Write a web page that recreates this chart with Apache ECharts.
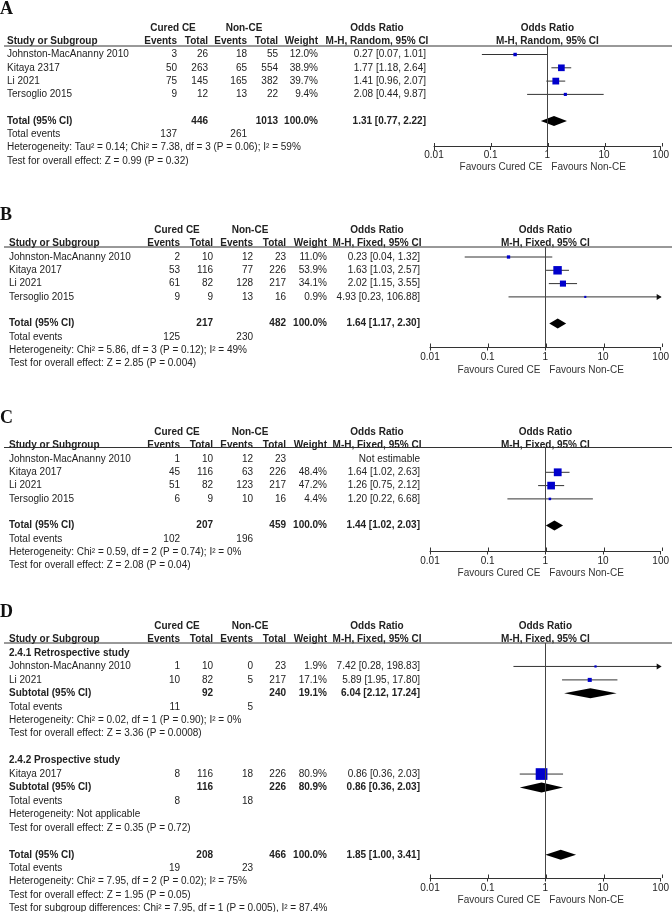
<!DOCTYPE html>
<html><head><meta charset="utf-8">
<script src="https://cdn.jsdelivr.net/npm/echarts@6/dist/echarts.min.js"></script>
<style>html,body{margin:0;padding:0;background:#fff}#c{width:672px;height:912px}</style>
</head><body><div id="c"></div>
<script>
// ---------- DATA ----------
// row format: [kind, label, curedEvents, curedTotal, nonEvents, nonTotal, weight%, OR, ciLow, ciHigh]
const rowsA = [
  ['study','Johnston-MacAnanny 2010',3,26,18,55,12.0,0.27,0.07,1.01],
  ['study','Kitaya 2317',50,263,65,554,38.9,1.77,1.18,2.64],
  ['study','Li 2021',75,145,165,382,39.7,1.41,0.96,2.07],
  ['study','Tersoglio 2015',9,12,13,22,9.4,2.08,0.44,9.87],
  null,
  ['total','Total (95% CI)',null,446,null,1013,100.0,1.31,0.77,2.22],
  ['events','Total events',137,null,261,null],
  ['text','Heterogeneity: Tau\u00b2 = 0.14; Chi\u00b2 = 7.38, df = 3 (P = 0.06); I\u00b2 = 59%'],
  ['text','Test for overall effect: Z = 0.99 (P = 0.32)']
];
const rowsB = [
  ['study','Johnston-MacAnanny 2010',2,10,12,23,11.0,0.23,0.04,1.32],
  ['study','Kitaya 2017',53,116,77,226,53.9,1.63,1.03,2.57],
  ['study','Li 2021',61,82,128,217,34.1,2.02,1.15,3.55],
  ['study','Tersoglio 2015',9,9,13,16,0.9,4.93,0.23,106.88],
  null,
  ['total','Total (95% CI)',null,217,null,482,100.0,1.64,1.17,2.30],
  ['events','Total events',125,null,230,null],
  ['text','Heterogeneity: Chi\u00b2 = 5.86, df = 3 (P = 0.12); I\u00b2 = 49%'],
  ['text','Test for overall effect: Z = 2.85 (P = 0.004)']
];
const rowsC = [
  ['study','Johnston-MacAnanny 2010',1,10,12,23,null,null,null,null],
  ['study','Kitaya 2017',45,116,63,226,48.4,1.64,1.02,2.63],
  ['study','Li 2021',51,82,123,217,47.2,1.26,0.75,2.12],
  ['study','Tersoglio 2015',6,9,10,16,4.4,1.20,0.22,6.68],
  null,
  ['total','Total (95% CI)',null,207,null,459,100.0,1.44,1.02,2.03],
  ['events','Total events',102,null,196,null],
  ['text','Heterogeneity: Chi\u00b2 = 0.59, df = 2 (P = 0.74); I\u00b2 = 0%'],
  ['text','Test for overall effect: Z = 2.08 (P = 0.04)']
];
const rowsD = [
  ['head','2.4.1 Retrospective study'],
  ['study','Johnston-MacAnanny 2010',1,10,0,23,1.9,7.42,0.28,198.83],
  ['study','Li 2021',10,82,5,217,17.1,5.89,1.95,17.80],
  ['subtotal','Subtotal (95% CI)',null,92,null,240,19.1,6.04,2.12,17.24],
  ['events','Total events',11,null,5,null],
  ['text','Heterogeneity: Chi\u00b2 = 0.02, df = 1 (P = 0.90); I\u00b2 = 0%'],
  ['text','Test for overall effect: Z = 3.36 (P = 0.0008)'],
  null,
  ['head','2.4.2 Prospective study'],
  ['study','Kitaya 2017',8,116,18,226,80.9,0.86,0.36,2.03],
  ['subtotal','Subtotal (95% CI)',null,116,null,226,80.9,0.86,0.36,2.03],
  ['events','Total events',8,null,18,null],
  ['text','Heterogeneity: Not applicable'],
  ['text','Test for overall effect: Z = 0.35 (P = 0.72)'],
  null,
  ['total','Total (95% CI)',null,208,null,466,100.0,1.85,1.00,3.41],
  ['events','Total events',19,null,23,null],
  ['text','Heterogeneity: Chi\u00b2 = 7.95, df = 2 (P = 0.02); I\u00b2 = 75%'],
  ['text','Test for overall effect: Z = 1.95 (P = 0.05)'],
  ['text','Test for subgroup differences: Chi\u00b2 = 7.95, df = 1 (P = 0.005), I\u00b2 = 87.4%']
];
const panelLetters = ['A','B','C','D'];
const methodLabels = ['M-H, Random, 95% CI','M-H, Fixed, 95% CI','M-H, Fixed, 95% CI','M-H, Fixed, 95% CI'];
const groupLabels = ['Cured CE','Non-CE'];
const columnHeaders = ['Study or Subgroup','Events','Total','Events','Total','Weight'];
const effectHeader = 'Odds Ratio';
const tickLabels = ['0.01','0.1','1','10','100'];
const favoursLabels = ['Favours Cured CE','Favours Non-CE'];

// ---------- LAYOUT ----------
const FONT = '"Liberation Sans", Arial, Helvetica, sans-serif';
const colsA = [7,177,208,247,278,318,426];
const colsB = [9,180,213,253,286,327,420];
const layouts = [
  {rows:rowsA, letterY:9.5, base:54.5, step:13.3, lineY:46, axisY:146.5, x0:434, x1:662, cols:colsA, grp:[173,244], orHead:377, favOff:20.5, labMargin:4},
  {rows:rowsB, letterY:215, base:257, step:13.3, lineY:247, axisY:347, x0:430, x1:662, cols:colsB, grp:[177,250], orHead:377, favOff:23, labMargin:5},
  {rows:rowsC, letterY:418, base:459, step:13.3, lineY:447.5, axisY:551, x0:430, x1:662, cols:colsB, grp:[177,250], orHead:377, favOff:22.5, labMargin:5},
  {rows:rowsD, letterY:612, base:653, step:13.45, lineY:643, axisY:878, x0:430, x1:662, cols:colsB, grp:[177,250], orHead:377, favOff:22.5, labMargin:5}
];

const f2 = v => v.toFixed(2);
const orText = (o,l,h) => f2(o) + ' [' + f2(l) + ', ' + f2(h) + ']';
const wText = w => w.toFixed(1) + '%';

function txt(x, y, text, align, bold, color) {
  return {type:'text', x:x, y:y, silent:true, style:{
    text:String(text), font:(bold?'bold ':'') + '10px ' + FONT, fill:color||'#222',
    textAlign:align, textVerticalAlign:'middle', align:align, verticalAlign:'middle'}};
}

const grids=[], xAxes=[], yAxes=[], series=[];
// main grids 0..3
layouts.forEach((L, i) => {
  const h = L.axisY - L.lineY;
  grids.push({left:L.x0, width:L.x1-L.x0, top:L.lineY, height:h});
  yAxes.push({gridIndex:i, type:'value', inverse:true, min:(L.lineY-L.base)/L.step, max:(L.axisY-L.base)/L.step, show:false,
    axisLine:{onZero:false}});
  xAxes.push({gridIndex:i, type:'log', logBase:10, min:0.01, max:100, position:'bottom', splitNumber:4,
    axisLine:{show:true, onZero:false, lineStyle:{color:'#333', width:1}},
    axisTick:{show:true, inside:false, length:3.5, lineStyle:{color:'#333', width:1}},
    axisLabel:{show:true, margin:L.labMargin, fontSize:10, fontFamily:FONT, color:'#222',
      formatter: v => tickLabels[Math.round(Math.log10(v)) + 2]},
    splitLine:{show:false}, minorTick:{show:false}});
});
// tick-up grids 4..7 (upper half of the tick marks crossing the axis line)
layouts.forEach((L, i) => {
  grids.push({left:L.x0, width:L.x1-L.x0, top:L.axisY, height:1});
  yAxes.push({gridIndex:4+i, type:'value', min:0, max:1, show:false, axisLine:{onZero:false}});
  xAxes.push({gridIndex:4+i, type:'log', logBase:10, min:0.01, max:100, position:'top', splitNumber:4,
    axisLine:{show:false, onZero:false}, axisTick:{show:true, inside:false, length:3.5, lineStyle:{color:'#333', width:1}},
    axisLabel:{show:false}, splitLine:{show:false}});
});

layouts.forEach((L, i) => {
  // forest marks
  const marks = [];
  L.rows.forEach((r, idx) => {
    if (!r) return;
    if ((r[0]==='study' && r[7]!=null) || r[0]==='total' || r[0]==='subtotal')
      marks.push({row:idx, kind:r[0], w:r[6], or:r[7], lo:r[8], hi:r[9]});
  });
  series.push({
    type:'custom', xAxisIndex:i, yAxisIndex:i, clip:false, silent:true, z:3,
    data: marks.map(m => [m.or, m.row]), encode:{x:0, y:1},
    renderItem: (params, api) => {
      const m = marks[params.dataIndex];
      const y = api.coord([1, m.row])[1];
      const xl = api.coord([Math.max(m.lo, 0.01), m.row])[0];
      const xh = api.coord([Math.min(m.hi, 100), m.row])[0];
      const xc = api.coord([m.or, m.row])[0];
      const ch = [];
      if (m.kind === 'study') {
        ch.push({type:'line', shape:{x1:xl, y1:y, x2:xh, y2:y}, style:{stroke:'#333', lineWidth:1}});
        if (m.hi > 100) ch.push({type:'polygon', shape:{points:[[xh+1,y],[xh-4,y-3],[xh-4,y+3]]}, style:{fill:'#111'}});
        const s = 2 + 0.12*m.w;
        ch.push({type:'rect', shape:{x:xc-s/2, y:y-s/2, width:s, height:s}, style:{fill:'#0000cc'}});
      } else {
        ch.push({type:'polygon', shape:{points:[[xl,y],[xc,y-5],[xh,y],[xc,y+5]]}, style:{fill:'#000'}});
      }
      return {type:'group', children:ch};
    },
    markLine:{silent:true, symbol:['none','none'], label:{show:false}, animation:false,
      lineStyle:{color:'#444', width:1, type:'solid'}, data:[{xAxis:1}]}
  });

  // table text
  const items = [[1, -2]];
  L.rows.forEach((r, idx) => { if (r) items.push([1, idx]); });
  series.push({
    type:'custom', xAxisIndex:i, yAxisIndex:i, clip:false, silent:true, z:4,
    data: items, encode:{x:0, y:1},
    renderItem: (params, api) => {
      const C = L.cols;
      const ch = [];
      if (params.dataIndex === 0) {
        const x1p = api.coord([1, 0])[0];
        const yh2 = api.coord([1, -2])[1], yh1 = api.coord([1, -1])[1];
        ch.push({type:'text', x:0, y:L.letterY, style:{text:panelLetters[i], font:'bold 18px "Liberation Serif", "Times New Roman", serif', fill:'#111', textAlign:'left', textVerticalAlign:'middle', align:'left', verticalAlign:'middle'}});
        ch.push(txt(L.grp[0], yh2, groupLabels[0], 'center', true));
        ch.push(txt(L.grp[1], yh2, groupLabels[1], 'center', true));
        ch.push(txt(L.orHead, yh2, effectHeader, 'center', true));
        ch.push(txt(x1p, yh2, effectHeader, 'center', true));
        ch.push(txt(C[0], yh1, columnHeaders[0], 'left', true));
        for (let k = 1; k <= 5; k++) ch.push(txt(C[k], yh1, columnHeaders[k], 'right', true));
        ch.push(txt(L.orHead, yh1, methodLabels[i], 'center', true));
        ch.push(txt(x1p, yh1, methodLabels[i], 'center', true));
        ch.push({type:'line', shape:{x1:4, y1:L.lineY, x2:672, y2:L.lineY}, style:{stroke:'#333', lineWidth:1}});
        ch.push(txt(x1p-5, L.axisY + L.favOff, favoursLabels[0], 'right', false, '#333'));
        ch.push(txt(x1p+4, L.axisY + L.favOff, favoursLabels[1], 'left', false, '#333'));
        return {type:'group', children:ch};
      }
      const idx = items[params.dataIndex][1];
      const r = L.rows[idx];
      const y = api.coord([1, idx])[1];
      const k = r[0];
      if (k === 'study') {
        ch.push(txt(C[0], y, r[1], 'left', false));
        ch.push(txt(C[1], y, r[2], 'right', false));
        ch.push(txt(C[2], y, r[3], 'right', false));
        ch.push(txt(C[3], y, r[4], 'right', false));
        ch.push(txt(C[4], y, r[5], 'right', false));
        if (r[6] != null) ch.push(txt(C[5], y, wText(r[6]), 'right', false));
        ch.push(txt(C[6], y, r[7] != null ? orText(r[7], r[8], r[9]) : 'Not estimable', 'right', false));
      } else if (k === 'total' || k === 'subtotal') {
        ch.push(txt(C[0], y, r[1], 'left', true));
        ch.push(txt(C[2], y, r[3], 'right', true));
        ch.push(txt(C[4], y, r[5], 'right', true));
        ch.push(txt(C[5], y, wText(r[6]), 'right', true));
        ch.push(txt(C[6], y, orText(r[7], r[8], r[9]), 'right', true));
      } else if (k === 'events') {
        ch.push(txt(C[0], y, r[1], 'left', false));
        ch.push(txt(C[1], y, r[2], 'right', false));
        ch.push(txt(C[3], y, r[4], 'right', false));
      } else if (k === 'head') {
        ch.push(txt(C[0], y, r[1], 'left', true));
      } else {
        ch.push(txt(C[0], y, r[1], 'left', false));
      }
      return {type:'group', children:ch};
    }
  });
});

const chart = echarts.init(document.getElementById('c'), null, {renderer:'canvas'});
chart.setOption({animation:false, backgroundColor:'#fff', grid:grids, xAxis:xAxes, yAxis:yAxes, series:series});
</script></body></html>
